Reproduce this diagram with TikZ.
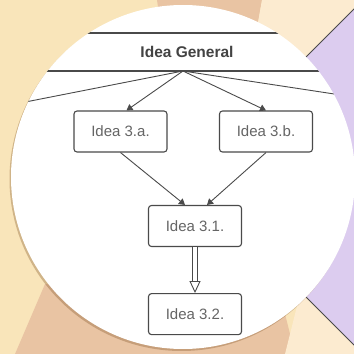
\documentclass[tikz,border=0pt]{standalone}
\usepackage{fontspec}
\setmainfont{Liberation Sans}
\usepackage{tikz}
\usetikzlibrary{arrows.meta, positioning, shadows}

\definecolor{beige}{HTML}{F9E5BA}
\definecolor{tan}{HTML}{E9C4A3}
\definecolor{pale}{HTML}{FCEBD0}
\definecolor{lilac}{HTML}{DCCCEF}
\definecolor{ink}{HTML}{4A4A4A}

\begin{document}
\begin{tikzpicture}[
x=1pt, y=1pt,
node distance=46pt and 50pt,
every node/.style={font=\fontsize{15}{18}\selectfont, align=center},
idea/.style={rectangle, rounded corners=3pt, draw=ink, line width=1.1pt, text=ink!85, minimum width=93pt, minimum height=41pt, inner sep=2pt},
general/.style={rectangle, draw=ink, line width=1.2pt, minimum width=460pt, minimum height=38pt, font=\fontsize{15.5}{18}\selectfont\bfseries, text=ink!90!black},
link/.style={-{Triangle[length=6pt, width=7pt]}, draw=ink, line width=0.9pt},
flow/.style={-{Triangle[open, length=12pt, width=11pt]}, draw=ink, line width=0.9pt, double=white, double distance=4.5pt}
]

\useasboundingbox (0,0) rectangle (354,354);

% background
\fill[beige] (0,0) rectangle (354,354);
\fill[tan] (157,354) -- (262,354) -- (240,230) -- (175,230) -- cycle;
\fill[pale] (262,354) -- (354,354) -- (354,300) -- (240,230) -- cycle;
\fill[tan] (15,0) -- (45,70) -- (150,60) -- (285,40) -- (295,0) -- cycle;
\fill[pale] (285,0) -- (354,0) -- (354,20) -- (300,60) -- cycle;
\fill[lilac, draw=ink, line width=0.8pt] (186,177) -- (370,361) -- (554,177) -- (370,-7) -- cycle;

\fill[white, drop shadow={shadow xshift=-1.5pt, shadow yshift=-2pt, opacity=0.35, fill=brown!70!black}] (183,177) circle (172);

\begin{scope}
\clip (183,177) circle (172);

\node[general] (general) at (187,302) {Idea General};
\coordinate (hub) at (183,283);
\coordinate (outL) at (0,247);
\coordinate (outR) at (354,257);

\node[idea] (ideaA) at (120.5,222.5) {Idea 3.a.};
\node[idea] (ideaB) at (266,222.5) {Idea 3.b.};
\node[idea] (ideaC) at (195,128) {Idea 3.1.};
\node[idea, below=of ideaC] (ideaD) {Idea 3.2.};

\draw[draw=ink, line width=0.9pt] (hub) -- (outL);
\draw[draw=ink, line width=0.9pt] (hub) -- (outR);
\draw[link] (hub) -- ([xshift=6pt]ideaA.north);
\draw[link] (hub) -- (ideaB.north);
\draw[link] (ideaA.south) -- ([xshift=-10pt]ideaC.north);
\draw[link] (ideaB.south) -- ([xshift=12pt]ideaC.north);
\draw[flow] (ideaC) -- (ideaD);
\end{scope}

\end{tikzpicture}
\end{document}
